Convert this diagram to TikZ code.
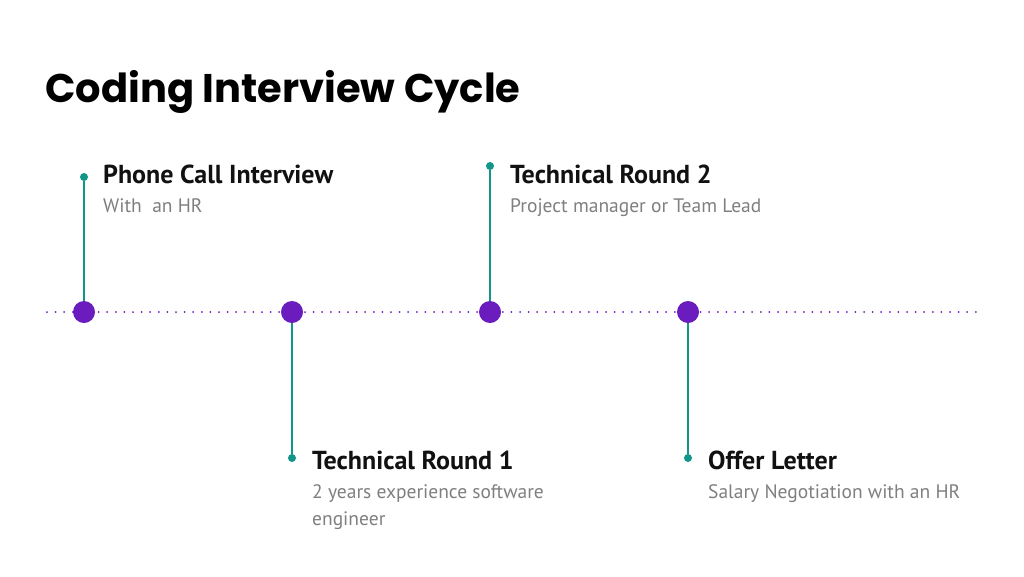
\documentclass[tikz,border=0pt]{standalone}
\usepackage{fontspec}
\setmainfont{Lato}
\newfontfamily\titlefont{Poppins}
\newfontfamily\bodyfont{PT Sans}
\definecolor{tlpurple}{HTML}{6A1CBE}
\definecolor{tlteal}{HTML}{12968A}
\definecolor{subgray}{HTML}{7F7F7F}
\definecolor{headblack}{HTML}{111111}
\begin{document}
\begin{tikzpicture}[x=1pt,y=-1pt,
  bigdot/.style={circle,fill=tlpurple,minimum size=22pt,inner sep=0pt},
  smalldot/.style={circle,fill=tlteal,minimum size=8pt,inner sep=0pt},
  stem/.style={draw=tlteal,line width=2pt},
  head/.style={anchor=base west,inner sep=0pt,font=\bodyfont\bfseries\fontsize{26}{30}\selectfont,text=headblack},
  sub/.style={anchor=base west,inner sep=0pt,font=\bodyfont\fontsize{19.5}{27}\selectfont,text=subgray,align=left},
  dotline/.style={draw=tlpurple,line width=2pt,line cap=round,dash pattern=on 0pt off 8.6pt}]
\useasboundingbox (0,0) rectangle (1024,576);
\fill[white] (0,0) rectangle (1024,576);
\node[anchor=base west,inner sep=0pt,font=\titlefont\bfseries\fontsize{40}{48}\selectfont] (title) at (45,102) {Coding Interview Cycle};
\coordinate (lstart) at (47,312);
\coordinate (lend) at (980,312);
\draw[dotline] (lstart) -- (lend);
% stems
\node[smalldot] (s1) at (84,177) {};
\node[smalldot] (s2) at (292,458) {};
\node[smalldot] (s3) at (490,166) {};
\node[smalldot] (s4) at (688,458) {};
\node[bigdot] (b1) at (84,312) {};
\node[bigdot] (b2) at (292,312) {};
\node[bigdot] (b3) at (490,312) {};
\node[bigdot] (b4) at (688,312) {};
\draw[stem] (s1) -- (b1);
\draw[stem] (s2) -- (b2);
\draw[stem] (s3) -- (b3);
\draw[stem] (s4) -- (b4);
% texts
\node[head] (h1) at (103,183) {Phone Call Interview};
\node[sub] (t1) at (103,212) {With\ \ an HR};
\node[head] (h3) at (510,183) {Technical Round 2};
\node[sub] (t3) at (510,212) {Project manager or Team Lead};
\node[head] (h2) at (312,469) {Technical Round 1};
\node[sub,anchor=north west] (t2) at (312,484.5) {2 years experience software\\engineer};
\node[head] (h4) at (708,469) {Offer Letter};
\node[sub] (t4) at (708,498) {Salary Negotiation with an HR};
\end{tikzpicture}
\end{document}
